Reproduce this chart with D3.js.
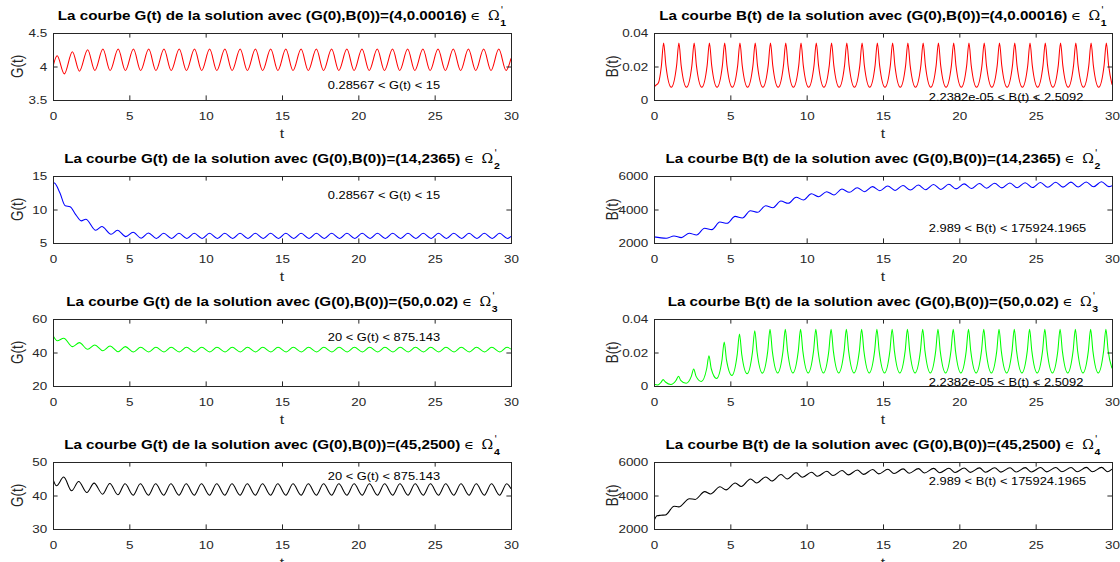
<!DOCTYPE html>
<html>
<head>
<meta charset="utf-8">
<script src="https://cdn.jsdelivr.net/npm/d3@7"></script>
<style>
  html, body { margin: 0; padding: 0; background: #fff; }
  svg { display: block; }
</style>
</head>
<body>
<svg id="fig" width="1120" height="562"></svg>
<script>
// ---------- shared axis values ----------
const tDomain = [0, 30];
const tTicks = [0, 5, 10, 15, 20, 25, 30];

const ticksG1 = [3.5, 4, 4.5];
const ticksB1 = [0, 0.02, 0.04];
const ticksG2 = [5, 10, 15];
const ticksB2 = [2000, 4000, 6000];
const ticksG3 = [20, 40, 60];
const ticksB3 = [0, 0.02, 0.04];
const ticksG4 = [30, 40, 50];
const ticksB4 = [2000, 4000, 6000];

// ---------- titles and bound annotations ----------
const titleG = [
  "La courbe G(t) de la solution avec (G(0),B(0))=(4,0.00016)",
  "La courbe G(t) de la solution avec (G(0),B(0))=(14,2365)",
  "La courbe G(t) de la solution avec (G(0),B(0))=(50,0.02)",
  "La courbe G(t) de la solution avec (G(0),B(0))=(45,2500)"
];
const titleB = [
  "La courbe B(t) de la solution avec (G(0),B(0))=(4,0.00016)",
  "La courbe B(t) de la solution avec (G(0),B(0))=(14,2365)",
  "La courbe B(t) de la solution avec (G(0),B(0))=(50,0.02)",
  "La courbe B(t) de la solution avec (G(0),B(0))=(45,2500)"
];
const regionIndex = ["1", "2", "3", "4"];
const notes = [
  "0.28567 < G(t) < 15", "2.2382e-05 < B(t) < 2.5092",
  "0.28567 < G(t) < 15", "2.989 < B(t) < 175924.1965",
  "20 < G(t) < 875.143", "2.2382e-05 < B(t) < 2.5092",
  "20 < G(t) < 875.143", "2.989 < B(t) < 175924.1965"
];
const noteT = [18, 18, 18, 18, 18, 18, 18, 18];
const noteV = [3.72, 0.002, 12.2, 2880, 49, 0.0025, 45.8, 4870];

// ---------- trajectories (time, value) ----------
// G(t), (G0,B0) = (4, 0.00016)
const g1T = [0,0.27,0.74,1.27,1.73,2.27,2.74,3.27,3.74,4.27,4.74,5.27,5.74,6.27,6.74,7.27,7.74,8.27,8.74,9.27,9.74,
  10.26,10.73,11.26,11.73,12.26,12.73,13.26,13.73,14.26,14.73,15.25,15.72,16.25,16.72,17.25,17.72,18.25,18.72,19.25,19.72,
  20.24,20.71,21.24,21.71,22.24,22.71,23.23,23.7,24.23,24.7,25.22,25.7,26.22,26.7,27.21,27.69,28.21,28.69,29.2,29.68,30];
const g1V = [4.0,4.16,3.89,4.22,3.93,4.25,3.94,4.26,3.94,4.26,3.94,4.26,3.94,4.26,3.94,4.26,3.94,4.26,3.94,4.26,3.94,
  4.26,3.94,4.26,3.94,4.26,3.94,4.26,3.94,4.26,3.94,4.26,3.94,4.26,3.94,4.26,3.94,4.26,3.94,4.26,3.94,
  4.26,3.94,4.26,3.94,4.26,3.94,4.26,3.94,4.26,3.94,4.26,3.94,4.26,3.94,4.26,3.94,4.26,3.94,4.26,3.94,4.12];

// B(t), (G0,B0) = (4, 0.00016)
const b1T = [0,0.03,0.3,0.48,0.63,
  0.78,1.13,1.48,1.63, 1.78,2.13,2.48,2.63, 2.78,3.13,3.48,3.63, 3.78,4.13,4.48,4.63, 4.78,5.13,5.48,5.63,
  5.78,6.13,6.48,6.63, 6.78,7.13,7.48,7.63, 7.78,8.13,8.48,8.63, 8.78,9.13,9.48,9.63, 9.78,10.13,10.48,10.63,
  10.78,11.13,11.48,11.63, 11.78,12.13,12.48,12.63, 12.78,13.13,13.48,13.63, 13.78,14.13,14.48,14.63, 14.78,15.13,15.48,15.63,
  15.78,16.13,16.48,16.63, 16.78,17.13,17.48,17.63, 17.78,18.13,18.48,18.63, 18.78,19.13,19.48,19.63, 19.78,20.13,20.48,20.63,
  20.78,21.13,21.48,21.63, 21.78,22.13,22.48,22.63, 22.78,23.13,23.48,23.63, 23.78,24.13,24.48,24.63, 24.78,25.13,25.48,25.63,
  25.78,26.13,26.48,26.63, 26.78,27.13,27.48,27.63, 27.78,28.13,28.48,28.63, 28.78,29.13,29.48,29.63,
  29.78,30];
const b1V = [0.00016,0.0078,0.0105,0.02,0.034,
  0.0205,0.0076,0.0205,0.034, 0.0205,0.0076,0.0205,0.034, 0.0205,0.0076,0.0205,0.034, 0.0205,0.0076,0.0205,0.034, 0.0205,0.0076,0.0205,0.034,
  0.0205,0.0076,0.0205,0.034, 0.0205,0.0076,0.0205,0.034, 0.0205,0.0076,0.0205,0.034, 0.0205,0.0076,0.0205,0.034, 0.0205,0.0076,0.0205,0.034,
  0.0205,0.0076,0.0205,0.034, 0.0205,0.0076,0.0205,0.034, 0.0205,0.0076,0.0205,0.034, 0.0205,0.0076,0.0205,0.034, 0.0205,0.0076,0.0205,0.034,
  0.0205,0.0076,0.0205,0.034, 0.0205,0.0076,0.0205,0.034, 0.0205,0.0076,0.0205,0.034, 0.0205,0.0076,0.0205,0.034, 0.0205,0.0076,0.0205,0.034,
  0.0205,0.0076,0.0205,0.034, 0.0205,0.0076,0.0205,0.034, 0.0205,0.0076,0.0205,0.034, 0.0205,0.0076,0.0205,0.034, 0.0205,0.0076,0.0205,0.034,
  0.0205,0.0076,0.0205,0.034, 0.0205,0.0076,0.0205,0.034, 0.0205,0.0076,0.0205,0.034, 0.0205,0.0076,0.0205,0.034,
  0.0205,0.0092];

// G(t), (G0,B0) = (14, 2365)
const g2T = [0,0.1,0.45,0.8,1.12,1.5,1.85,2.15,2.8,3.2,3.8,4.22,4.77,5.25,5.77,6.25,6.77,
  7.25,7.77,8.25,8.77,9.25,9.77,10.25,10.77,11.25,11.77,12.25,12.77,13.25,13.77,14.25,14.77,15.25,15.77,16.25,16.77,17.25,17.77,18.25,18.77,19.25,19.77,
  20.25,20.77,21.25,21.77,22.25,22.77,23.25,23.77,24.25,24.77,25.25,25.77,26.25,26.77,27.25,27.77,28.25,28.77,29.25,29.77,30];
const g2V = [14.0,13.95,12.5,10.55,10.42,9.2,8.3,8.55,6.9,7.45,6.3,6.9,5.95,6.6,5.72,6.5,5.68,
  6.45,5.67,6.45,5.67,6.45,5.67,6.45,5.67,6.45,5.67,6.45,5.67,6.45,5.67,6.45,5.67,6.45,5.67,6.45,5.67,6.45,5.67,6.45,5.67,6.45,5.67,
  6.45,5.67,6.45,5.67,6.45,5.67,6.45,5.67,6.45,5.67,6.45,5.67,6.45,5.67,6.45,5.67,6.45,5.67,6.45,5.67,6.0];

// B(t), (G0,B0) = (14, 2365)
const b2T = [0,0.8, 1.31,1.79, 2.31,2.79, 3.31,3.79, 4.31,4.79, 5.31,5.79, 6.31,6.79, 7.31,7.79, 8.31,8.79, 9.31,9.79,
  10.31,10.79, 11.31,11.79, 12.31,12.79, 13.31,13.79, 14.31,14.79, 15.31,15.79, 16.31,16.79, 17.31,17.79, 18.31,18.79, 19.31,19.79,
  20.31,20.79, 21.31,21.79, 22.31,22.79, 23.31,23.79, 24.31,24.79, 25.31,25.79, 26.31,26.79, 27.31,27.79, 28.31,28.79, 29.31,29.79, 30];
const b2V = [2365,2280, 2420,2320, 2580,2480, 2880,2800, 3250,3175, 3590,3495, 3930,3830, 4225,4110, 4505,4370, 4730,4570,
  4945,4765, 5065,4870, 5220,5025, 5300,5065, 5365,5125, 5400,5140, 5430,5160, 5460,5180, 5490,5200, 5510,5230,
  5530,5250, 5550,5270, 5570,5290, 5585,5300, 5600,5310, 5615,5325, 5625,5335, 5635,5345, 5645,5355, 5660,5365, 5420];

// G(t), (G0,B0) = (50, 0.02)
const g3T = [0,0.28,0.7,1.28,1.73,2.27,2.74,3.27,3.74,4.27,4.74,
  5.27,5.74,6.27,6.74,7.27,7.74,8.27,8.74,9.27,9.74,10.27,10.74,11.27,11.74,12.27,12.74,13.27,13.74,14.27,14.74,15.27,15.74,16.27,16.74,17.27,17.74,
  18.27,18.74,19.27,19.74,20.27,20.74,21.27,21.74,22.27,22.74,23.27,23.74,24.27,24.74,25.27,25.74,26.27,26.74,27.27,27.74,28.27,28.74,29.27,29.74,30];
const g3V = [50.2,47.0,48.5,43.5,45.9,41.9,44.5,41.1,43.9,40.5,43.5,
  40.3,43.1,40.3,43.1,40.3,43.1,40.3,43.1,40.3,43.1,40.3,43.1,40.3,43.1,40.3,43.1,40.3,43.1,40.3,43.1,40.3,43.1,40.3,43.1,40.3,43.1,
  40.3,43.1,40.3,43.1,40.3,43.1,40.3,43.1,40.3,43.1,40.3,43.1,40.3,43.1,40.3,43.1,40.3,43.1,40.3,43.1,40.3,43.1,40.3,43.1,42.0];

// B(t), (G0,B0) = (50, 0.02)
const b3T = [0,0.03,0.25,0.46,0.6,
  0.75,1.1,1.45,1.6, 1.75,2.1,2.45,2.6, 2.75,3.1,3.45,3.6, 3.75,4.1,4.45,4.6, 4.75,5.1,5.45,5.6,
  5.75,6.1,6.45,6.6, 6.75,7.1,7.45,7.6, 7.75,8.1,8.45,8.6, 8.75,9.1,9.45,9.6, 9.75,10.1,10.45,10.6,
  10.75,11.1,11.45,11.6, 11.75,12.1,12.45,12.6, 12.75,13.1,13.45,13.6, 13.75,14.1,14.45,14.6, 14.75,15.1,15.45,15.6,
  15.75,16.1,16.45,16.6, 16.75,17.1,17.45,17.6, 17.75,18.1,18.45,18.6, 18.75,19.1,19.45,19.6, 19.75,20.1,20.45,20.6,
  20.75,21.1,21.45,21.6, 21.75,22.1,22.45,22.6, 22.75,23.1,23.45,23.6, 23.75,24.1,24.45,24.6, 24.75,25.1,25.45,25.6,
  25.75,26.1,26.45,26.6, 26.75,27.1,27.45,27.6, 27.75,28.1,28.45,28.6, 28.75,29.1,29.45,29.6,
  29.75,30];
const b3V = [0.02,0.001,0.0006,0.0022,0.0038,
  0.0024,0.0009,0.0034,0.0058, 0.0034,0.0016,0.0059,0.0102, 0.0059,0.0027,0.0103,0.018, 0.0103,0.0045,0.0153,0.0262, 0.0154,0.0063,0.0187,0.031,
  0.0187,0.0073,0.0202,0.033, 0.0204,0.0077,0.0208,0.0338, 0.0208,0.0078,0.0208,0.0338, 0.0208,0.0078,0.0208,0.0338, 0.0208,0.0078,0.0208,0.0338,
  0.0208,0.0078,0.0208,0.0338, 0.0208,0.0078,0.0208,0.0338, 0.0208,0.0078,0.0208,0.0338, 0.0208,0.0078,0.0208,0.0338, 0.0208,0.0078,0.0208,0.0338,
  0.0208,0.0078,0.0208,0.0338, 0.0208,0.0078,0.0208,0.0338, 0.0208,0.0078,0.0208,0.0338, 0.0208,0.0078,0.0208,0.0338, 0.0208,0.0078,0.0208,0.0338,
  0.0208,0.0078,0.0208,0.0338, 0.0208,0.0078,0.0208,0.0338, 0.0208,0.0078,0.0208,0.0338, 0.0208,0.0078,0.0208,0.0338, 0.0208,0.0078,0.0208,0.0338,
  0.0208,0.0078,0.0208,0.0338, 0.0208,0.0078,0.0208,0.0338, 0.0208,0.0078,0.0208,0.0338, 0.0208,0.0078,0.0208,0.0338,
  0.0208,0.0105];

// G(t), (G0,B0) = (45, 2500)
const g4T = [0,0.23,0.7,1.22,1.68,2.22,2.69,3.25,3.72,4.25,4.72,
  5.25,5.72,6.25,6.72,7.25,7.72,8.25,8.72,9.25,9.72,10.25,10.72,11.25,11.72,12.25,12.72,13.25,13.72,14.25,14.72,15.25,15.72,16.25,16.72,17.25,17.72,
  18.25,18.72,19.25,19.72,20.25,20.72,21.25,21.72,22.25,22.72,23.25,23.72,24.25,24.72,25.25,25.72,26.25,26.72,27.25,27.72,28.25,28.72,29.25,29.72,30];
const g4V = [44.9,42.9,45.5,41.4,44.2,40.9,43.7,40.4,43.6,40.2,43.5,
  40.1,43.5,40.1,43.5,40.1,43.5,40.1,43.5,40.1,43.5,40.1,43.5,40.1,43.5,40.1,43.5,40.1,43.5,40.1,43.5,40.1,43.5,40.1,43.5,40.1,43.5,
  40.1,43.5,40.1,43.5,40.1,43.5,40.1,43.5,40.1,43.5,40.1,43.5,40.1,43.5,40.1,43.5,40.1,43.5,40.1,43.5,40.1,43.5,40.1,43.5,42.0];

// B(t), (G0,B0) = (45, 2500)
const b4T = [0,0.2,0.45,0.75, 1.32,1.62, 2.32,2.7, 3.32,3.7, 4.32,4.72, 5.32,5.72, 6.32,6.72, 7.32,7.72, 8.32,8.72, 9.32,9.72,
  10.32,10.72, 11.32,11.72, 12.32,12.72, 13.32,13.72, 14.32,14.72, 15.32,15.72, 16.32,16.72, 17.32,17.72, 18.32,18.72, 19.32,19.72,
  20.32,20.72, 21.32,21.72, 22.32,22.72, 23.32,23.72, 24.32,24.72, 25.32,25.72, 26.32,26.72, 27.32,27.72, 28.32,28.72, 29.32,29.72, 30];
const b4V = [2500,2790,2820,2840, 3360,3320, 3805,3765, 4230,4090, 4520,4335, 4745,4540, 4990,4745, 5110,4865, 5250,4990, 5355,5085,
  5390,5145, 5450,5190, 5490,5230, 5520,5260, 5550,5290, 5570,5310, 5590,5330, 5605,5345, 5620,5360, 5630,5370,
  5640,5380, 5650,5390, 5655,5395, 5660,5400, 5665,5405, 5670,5410, 5672,5412, 5675,5415, 5678,5418, 5680,5420, 5570];

// ---------- layout and style ----------
const W = 1120, H = 562;
const colX = [[53, 511], [654, 1112]];
const rowTop = [33, 176, 319, 462];
const plotH = 67;
const ylabX = [17, 612];
const SX = 1.17;                  // horizontal widening of all lettering
const TICK = 4.6;
const INK = "#262626";
const SANS = "'Liberation Sans', Arial, Helvetica, sans-serif";
const SERIF = "'DejaVu Serif', 'Liberation Serif', serif";
const RED = "#ff0000", BLUE = "#0000ff", GREEN = "#00ff00", BLACK = "#000000";

const panels = [
  { row: 0, col: 0, t: g1T, v: g1V, dom: [3.5, 4.5], ticks: ticksG1, color: RED,   ylab: "G(t)", title: titleG[0], k: 0 },
  { row: 0, col: 1, t: b1T, v: b1V, dom: [0, 0.04],  ticks: ticksB1, color: RED,   ylab: "B(t)", title: titleB[0], k: 0 },
  { row: 1, col: 0, t: g2T, v: g2V, dom: [5, 15],    ticks: ticksG2, color: BLUE,  ylab: "G(t)", title: titleG[1], k: 1 },
  { row: 1, col: 1, t: b2T, v: b2V, dom: [2000, 6000], ticks: ticksB2, color: BLUE, ylab: "B(t)", title: titleB[1], k: 1 },
  { row: 2, col: 0, t: g3T, v: g3V, dom: [20, 60],   ticks: ticksG3, color: GREEN, ylab: "G(t)", title: titleG[2], k: 2 },
  { row: 2, col: 1, t: b3T, v: b3V, dom: [0, 0.04],  ticks: ticksB3, color: GREEN, ylab: "B(t)", title: titleB[2], k: 2 },
  { row: 3, col: 0, t: g4T, v: g4V, dom: [30, 50],   ticks: ticksG4, color: BLACK, ylab: "G(t)", title: titleG[3], k: 3 },
  { row: 3, col: 1, t: b4T, v: b4V, dom: [2000, 6000], ticks: ticksB4, color: BLACK, ylab: "B(t)", title: titleB[3], k: 3 }
];

const svg = d3.select("#fig");
svg.append("rect").attr("width", W).attr("height", H).attr("fill", "#fff");

// widen tick labels horizontally around their anchor
function styleTickText(axisG) {
  axisG.attr("font-family", SANS).attr("font-size", 11.5);
  axisG.selectAll(".tick text").each(function () {
    const t = d3.select(this);
    const x0 = +(t.attr("x") || 0);
    t.attr("x", x0 / SX).attr("transform", `scale(${SX},1)`).attr("fill", INK);
  });
  axisG.selectAll(".tick line").attr("stroke", INK);
  axisG.select(".domain").remove();
}

function drawTitle(cx, baseY, main, idx) {
  const g = svg.append("g");
  const inner = g.append("g").attr("transform", `scale(${SX},1)`);
  const txt = inner.append("text").attr("x", 0).attr("y", 0)
    .attr("font-family", SANS).attr("font-size", 13).attr("fill", "#000");
  txt.append("tspan").attr("font-weight", "bold").text(main);
  txt.append("tspan").attr("font-family", SERIF).attr("font-size", 11.5).attr("dx", 3.2).text("\u2208");
  txt.append("tspan").attr("font-family", SERIF).attr("font-size", 12).attr("dx", 6.5).text("\u03A9");
  const bb = txt.node().getBBox();
  const w = bb.x + bb.width;
  inner.append("text").attr("x", w + 0.6).attr("y", -6.5)
    .attr("font-family", SERIF).attr("font-size", 9).attr("fill", "#000").text("'");
  inner.append("text").attr("x", w + 0.4).attr("y", 6.5)
    .attr("font-family", SANS).attr("font-weight", "bold").attr("font-size", 9).attr("fill", "#000").text(idx);
  const total = (w + 5.5) * SX;
  g.attr("transform", `translate(${cx - total / 2},${baseY})`);
}

panels.forEach((p, i) => {
  const [xa, xb] = colX[p.col];
  const ya = rowTop[p.row], yb = ya + plotH;
  const x = d3.scaleLinear().domain(tDomain).range([xa, xb]);
  const y = d3.scaleLinear().domain(p.dom).range([yb, ya]);
  const g = svg.append("g");

  const cid = "clip" + i;
  g.append("clipPath").attr("id", cid).append("rect")
    .attr("x", xa).attr("y", ya - 1).attr("width", xb - xa + 1).attr("height", plotH + 2);

  const n = Math.min(p.t.length, p.v.length);
  const pts = d3.range(n).map(j => [p.t[j], p.v[j]]);
  g.append("path").datum(pts)
    .attr("clip-path", `url(#${cid})`)
    .attr("fill", "none").attr("stroke", p.color).attr("stroke-width", 1.05)
    .attr("stroke-linejoin", "round")
    .attr("d", d3.line().x(d => x(d[0])).y(d => y(d[1])).curve(d3.curveMonotoneX));

  // inward ticks on all four sides
  const gb = g.append("g").attr("transform", `translate(0,${yb})`)
    .call(d3.axisBottom(x).tickValues(tTicks).tickSizeInner(-TICK).tickSizeOuter(0)
      .tickPadding(12).tickFormat(d3.format("d")));
  styleTickText(gb);
  const gt = g.append("g").attr("transform", `translate(0,${ya})`)
    .call(d3.axisTop(x).tickValues(tTicks).tickSizeInner(-TICK).tickSizeOuter(0).tickFormat(""));
  styleTickText(gt);
  const gl = g.append("g").attr("transform", `translate(${xa},0)`)
    .call(d3.axisLeft(y).tickValues(p.ticks).tickSizeInner(-TICK).tickSizeOuter(0)
      .tickPadding(5.7).tickFormat(d3.format("~g")));
  styleTickText(gl);
  const gr = g.append("g").attr("transform", `translate(${xb},0)`)
    .call(d3.axisRight(y).tickValues(p.ticks).tickSizeInner(-TICK).tickSizeOuter(0).tickFormat(""));
  styleTickText(gr);

  // axes box
  g.append("rect").attr("x", xa + 0.5).attr("y", ya + 0.5)
    .attr("width", xb - xa).attr("height", plotH)
    .attr("fill", "none").attr("stroke", INK).attr("stroke-width", 1);

  // bound annotation
  g.append("text")
    .attr("transform", `translate(${x(noteT[i])},${y(noteV[i])}) scale(${SX},1)`)
    .attr("dy", "0.35em")
    .attr("font-family", SANS).attr("font-size", 11).attr("fill", "#000")
    .text(notes[i]);

  // axis labels
  g.append("text")
    .attr("transform", `translate(${(xa + xb) / 2},${yb + 38}) scale(${SX},1)`)
    .attr("text-anchor", "middle")
    .attr("font-family", SANS).attr("font-size", 13.5).attr("fill", INK)
    .text("t");
  g.append("text")
    .attr("transform", `translate(${ylabX[p.col]},${(ya + yb) / 2}) rotate(-90) scale(1,${SX})`)
    .attr("text-anchor", "middle").attr("dy", "0.35em")
    .attr("font-family", SANS).attr("font-size", 13.5).attr("fill", INK)
    .text(p.ylab);

  drawTitle((xa + xb) / 2, ya - 13.5, p.title, regionIndex[p.k]);
});
</script>
</body>
</html>
